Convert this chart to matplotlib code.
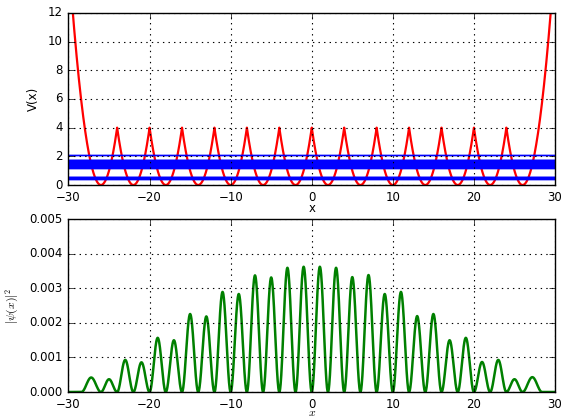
import numpy as np
import matplotlib
matplotlib.use('Agg')
from matplotlib import pyplot as plt
from matplotlib.ticker import FormatStrFormatter

plt.style.use('classic')
plt.rcParams['font.size'] = 8.5
plt.rcParams['mathtext.fontset'] = 'cm'

# centros de los pozos del potencial periodico (parabolas de altura 4 en las barreras)
centros_pozos = [-26, -22, -18, -14, -10, -6, -2, 2, 6, 10, 14, 18, 22, 26]

# niveles de energia dibujados como lineas horizontales
energias = [0.44, 0.447, 0.455, 0.463, 0.472, 0.481, 0.49, 0.498, 0.507, 0.515, 0.523, 0.53, 0.536, 0.54,
            1.21, 1.22, 1.25, 1.29, 1.34, 1.40, 1.46, 1.50, 1.56, 1.62, 1.67, 1.71, 1.73, 1.75,
            2.09, 2.11]

# ceros de |psi|^2 y altura de cada lobulo entre ellos
ceros = [-28.4, -26, -24, -22, -20, -18, -16, -14, -12, -10, -8, -6, -4, -2, 0,
         2, 4, 6, 8, 10, 12, 14, 16, 18, 20, 22, 24, 26, 28.4]
alturas = [0.00042, 0.00037, 0.00093, 0.00086, 0.00157, 0.00150, 0.00226, 0.00219,
           0.00290, 0.00284, 0.00338, 0.00332, 0.00360, 0.00363,
           0.00363, 0.00360, 0.00333, 0.00339, 0.00284, 0.00290, 0.00220, 0.00226,
           0.00150, 0.00157, 0.00087, 0.00093, 0.00037, 0.00043]

x = np.linspace(-30, 30, 3001)

# potencial: cada punto usa la parabola del pozo mas cercano
c = np.array(centros_pozos)
cercano = c[np.abs(x[:, None] - c[None, :]).argmin(axis=1)]
V = (x - cercano) ** 2

# densidad de probabilidad: un lobulo por tramo entre ceros
psi2 = np.zeros_like(x)
for a, b, h in zip(ceros[:-1], ceros[1:], alturas):
    m = (x >= a) & (x <= b)
    psi2[m] = h * np.sin(np.pi * (x[m] - a) / (b - a)) ** 2

fig = plt.figure(figsize=(5.66, 4.18), dpi=100, facecolor='white')

ax1 = fig.add_axes([0.121, 0.5574, 0.8596, 0.4116])
ax1.plot(x, V, 'r', lw=1.6)
for e in energias:
    ax1.axhline(e, color='b', lw=1.0)
ax1.set_xlim(-30, 30)
ax1.set_ylim(0, 12)
ax1.set_yticks([0, 2, 4, 6, 8, 10, 12])
ax1.set_xticks([-30, -20, -10, 0, 10, 20, 30])
ax1.grid(True, color='k', linestyle=':', lw=0.8)
ax1.set_xlabel('x', va='center')
ax1.xaxis.set_label_coords(0.5, -0.135)
ax1.set_ylabel('V(x)', labelpad=6)

ax2 = fig.add_axes([0.121, 0.0622, 0.8596, 0.4127])
ax2.plot(x, psi2, color='g', lw=1.8)
ax2.set_xlim(-30, 30)
ax2.set_ylim(0, 0.005)
ax2.set_yticks([0, 0.001, 0.002, 0.003, 0.004, 0.005])
ax2.set_xticks([-30, -20, -10, 0, 10, 20, 30])
ax2.yaxis.set_major_formatter(FormatStrFormatter('%.3f'))
ax2.grid(True, color='k', linestyle=':', lw=0.8)
ax2.set_xlabel('$x$', va='center')
ax2.xaxis.set_label_coords(0.5, -0.12)
ax2.set_ylabel(r'$|\psi(x)|^2$', labelpad=6)

fig.savefig('out.png', dpi=100, facecolor='white')
